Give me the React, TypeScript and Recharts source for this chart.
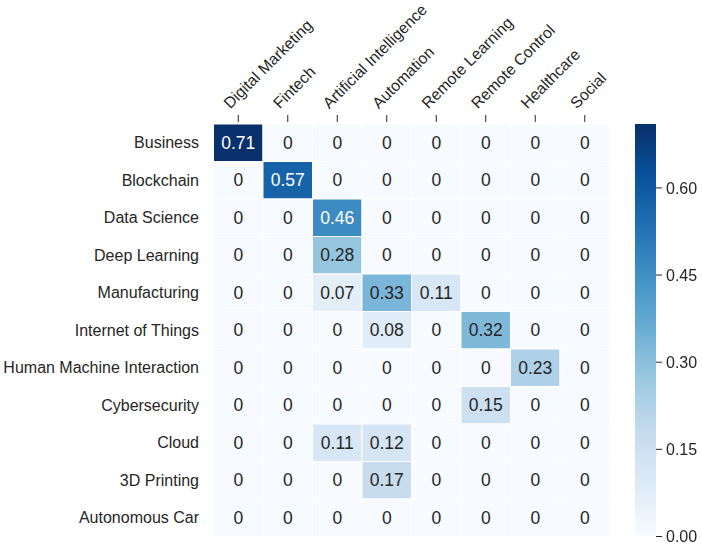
import { ScatterChart, Scatter, XAxis, YAxis, BarChart, Bar } from 'recharts';

const topics = [
  'Digital Marketing',
  'Fintech',
  'Artificial Intelligence',
  'Automation',
  'Remote Learning',
  'Remote Control',
  'Healthcare',
  'Social',
];

const fields = [
  'Business',
  'Blockchain',
  'Data Science',
  'Deep Learning',
  'Manufacturing',
  'Internet of Things',
  'Human Machine Interaction',
  'Cybersecurity',
  'Cloud',
  '3D Printing',
  'Autonomous Car',
];

// one row per field, one value per topic
const business = [0.71, 0, 0, 0, 0, 0, 0, 0];
const blockchain = [0, 0.57, 0, 0, 0, 0, 0, 0];
const dataScience = [0, 0, 0.46, 0, 0, 0, 0, 0];
const deepLearning = [0, 0, 0.28, 0, 0, 0, 0, 0];
const manufacturing = [0, 0, 0.07, 0.33, 0.11, 0, 0, 0];
const iot = [0, 0, 0, 0.08, 0, 0.32, 0, 0];
const hmi = [0, 0, 0, 0, 0, 0, 0.23, 0];
const cybersecurity = [0, 0, 0, 0, 0, 0.15, 0, 0];
const cloud = [0, 0, 0.11, 0.12, 0, 0, 0, 0];
const printing3d = [0, 0, 0, 0.17, 0, 0, 0, 0];
const autonomousCar = [0, 0, 0, 0, 0, 0, 0, 0];

const rowValues = [
  business, blockchain, dataScience, deepLearning, manufacturing, iot,
  hmi, cybersecurity, cloud, printing3d, autonomousCar,
];

const colorbarTicks = [0, 0.15, 0.3, 0.45, 0.6];
const vmax = 0.71;

// matplotlib "Blues"
const blues = ['#f7fbff', '#deebf7', '#c6dbef', '#9ecae1', '#6baed6', '#4292c6', '#2171b5', '#08519c', '#08306b'];

const hexToRgb = (h: string) => [1, 3, 5].map((i) => parseInt(h.slice(i, i + 2), 16));

function bluesColor(t: number) {
  const c = Math.max(0, Math.min(1, t)) * (blues.length - 1);
  const i = Math.min(Math.floor(c), blues.length - 2);
  const f = c - i;
  const a = hexToRgb(blues[i]);
  const b = hexToRgb(blues[i + 1]);
  return a.map((v, k) => Math.round(v + (b[k] - v) * f));
}

function luminance(rgb: number[]) {
  const lin = rgb.map((v) => {
    const s = v / 255;
    return s <= 0.03928 ? s / 12.92 : Math.pow((s + 0.055) / 1.055, 2.4);
  });
  return 0.2126 * lin[0] + 0.7152 * lin[1] + 0.0722 * lin[2];
}

const cells = rowValues.flatMap((row, r) =>
  row.map((v, c) => ({ x: c + 0.5, y: r + 0.5, v }))
);

const W = 702;
const H = 544;
const margin = { top: 14, right: 92.5, bottom: 7.5, left: 13.5 };
const xAxisHeight = 110;
const yAxisWidth = 200;
const plotW = W - margin.left - margin.right - yAxisWidth;
const plotH = H - margin.top - margin.bottom - xAxisHeight;
const cellW = plotW / topics.length;
const cellH = plotH / fields.length;

const textColor = '#262626';
const font = '"Liberation Sans", Arial, sans-serif';

function HeatCell(props: any) {
  const { cx, cy, payload } = props;
  const rgb = bluesColor(payload.v / vmax);
  const fill = `rgb(${rgb.join(',')})`;
  const label = payload.v === 0 ? '0' : payload.v.toFixed(2);
  const color = luminance(rgb) > 0.408 ? textColor : '#ffffff';
  return (
    <g>
      <rect x={cx - cellW / 2} y={cy - cellH / 2} width={cellW} height={cellH} fill={fill} stroke="#ffffff" strokeWidth={1} />
      <text x={cx} y={cy} textAnchor="middle" dominantBaseline="central" fontSize={17.5} fill={color} fontFamily={font}>
        {label}
      </text>
    </g>
  );
}

function TopTick(props: any) {
  const { x, y, payload } = props;
  const name = topics[Math.floor(payload.value)];
  const ax = x - 8;
  const ay = y - 14.5;
  return (
    <g>
      <line x1={x} x2={x} y1={y - 9} y2={y - 2} stroke={textColor} strokeWidth={1} />
      <text
        x={ax}
        y={ay}
        transform={`rotate(-45 ${ax} ${ay})`}
        textAnchor="start"
        fontSize={15.8}
        fill={textColor}
        fontFamily={font}
      >
        {name}
      </text>
    </g>
  );
}

export default function App() {
  return (
    <div style={{ position: 'fixed', left: 0, top: 0, width: W, height: H, fontFamily: font, background: '#ffffff' }}>
      <svg width={0} height={0} style={{ position: 'absolute' }}>
        <defs>
          <linearGradient id="bluesGrad" x1="0" y1="1" x2="0" y2="0">
            {blues.map((c, i) => (
              <stop key={i} offset={i / (blues.length - 1)} stopColor={c} />
            ))}
          </linearGradient>
        </defs>
      </svg>

      <div style={{ position: 'absolute', left: 0, top: 0 }}>
        <ScatterChart width={W} height={H} margin={margin}>
          <XAxis
            type="number"
            dataKey="x"
            orientation="top"
            domain={[0, topics.length]}
            ticks={topics.map((_, i) => i + 0.5)}
            interval={0}
            height={xAxisHeight}
            axisLine={false}
            tickLine={false}
            tickSize={0}
            tickMargin={0}
            tick={<TopTick />}
          />
          <YAxis
            type="number"
            dataKey="y"
            reversed
            domain={[0, fields.length]}
            ticks={fields.map((_, i) => i + 0.5)}
            interval={0}
            width={yAxisWidth}
            axisLine={false}
            tickLine={false}
            tickSize={0}
            tickMargin={14.5}
            tickFormatter={(v: number) => fields[Math.floor(v)]}
            tick={{ fill: textColor, fontSize: 16, fontFamily: font }}
          />
          <Scatter data={cells} shape={<HeatCell />} isAnimationActive={false} />
        </ScatterChart>
      </div>

      {/* colorbar */}
      <div style={{ position: 'absolute', left: 635, top: 114 }}>
        <BarChart
          width={67}
          height={plotH + 20}
          data={[{ name: 'scale', v: vmax }]}
          margin={{ top: 10, right: 0, bottom: 10, left: 0 }}
          barCategoryGap={0}
        >
          <XAxis dataKey="name" hide />
          <YAxis
            orientation="right"
            domain={[0, vmax]}
            ticks={colorbarTicks}
            interval={0}
            width={46}
            axisLine={false}
            tickLine={{ stroke: textColor }}
            tickSize={6}
            tickMargin={4}
            tickFormatter={(v: number) => v.toFixed(2)}
            tick={{ fill: textColor, fontSize: 16, fontFamily: font }}
          />
          <Bar dataKey="v" fill="url(#bluesGrad)" isAnimationActive={false} />
        </BarChart>
      </div>
    </div>
  );
}
